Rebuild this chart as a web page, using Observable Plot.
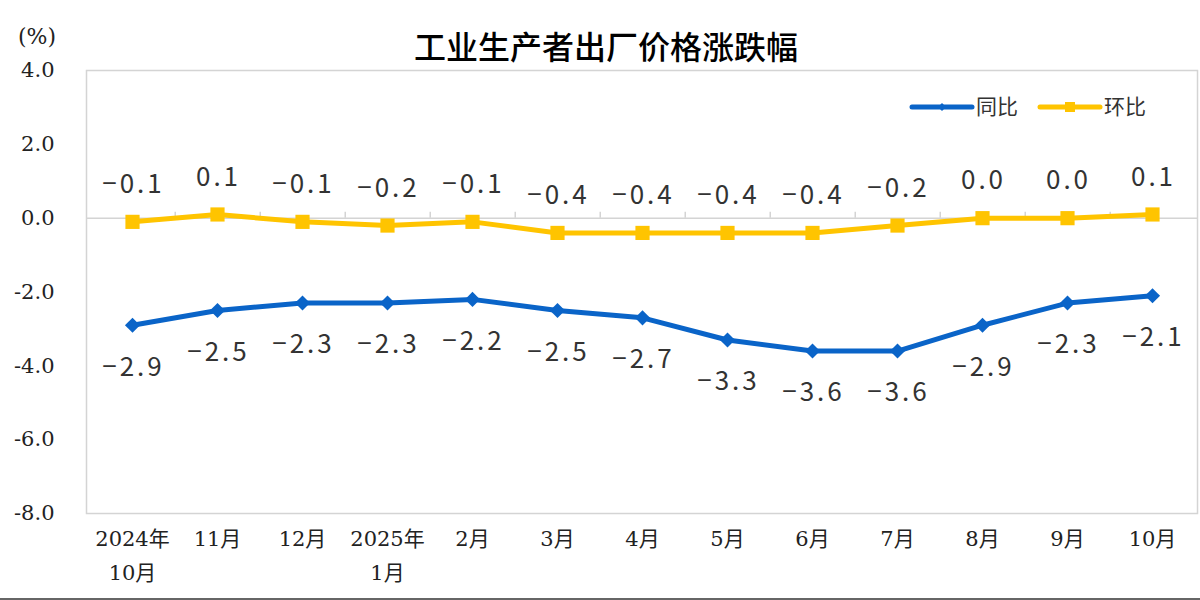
<!DOCTYPE html>
<html>
<head>
<meta charset="utf-8">
<script src="https://cdn.jsdelivr.net/npm/d3@7"></script>
<script src="https://cdn.jsdelivr.net/npm/@observablehq/plot@0.6"></script>
<style>
  body { margin: 0; background: #fff; overflow: hidden; }
  #wrap { position: relative; width: 1200px; height: 600px; }
  #title { position: absolute; top: 25px; left: 6px; width: 1200px; text-align: center;
           font-family: "Noto Sans CJK SC", sans-serif; font-size: 32px; font-weight: 500; line-height: 40px; color: #000; }
  #unit { position: absolute; left: 18px; top: 24px; font-family: "DejaVu Serif", serif; font-size: 22px; color: #222; }
  #legend { position: absolute; left: 900px; top: 89px; }
  #chart { position: absolute; left: 0; top: 0; }
  #bottomline { position: absolute; left: 0; top: 598px; width: 1200px; height: 2px; background: #666; }
</style>
</head>
<body>
<div id="wrap">
  <div id="chart"></div>
  <div id="title">工业生产者出厂价格涨跌幅</div>
  <div id="unit">(%)</div>
  <svg id="legend" width="270" height="36"></svg>
  <div id="bottomline"></div>
</div>
<script>
const months = ["2024年\n10月", "11月", "12月", "2025年\n1月", "2月", "3月", "4月", "5月", "6月", "7月", "8月", "9月", "10月"];
const yoy = [-2.9, -2.5, -2.3, -2.3, -2.2, -2.5, -2.7, -3.3, -3.6, -3.6, -2.9, -2.3, -2.1];
const mom = [-0.1, 0.1, -0.1, -0.2, -0.1, -0.4, -0.4, -0.4, -0.4, -0.2, 0.0, 0.0, 0.1];
const yTicks = [-8, -6, -4, -2, 0, 2, 4];
const seriesNames = ["同比", "环比"];

const blue = "#0a64c8";
const yellow = "#ffc400";
const gridColor = "#d4d4d4";

const W = 1200, H = 600, mL = 86, mR = 3, mT = 70, mB = 87;
const step = (W - mL - mR) / months.length;

const data = months.map((m, i) => ({ month: m, yoy: yoy[i], mom: mom[i] }));
const fmt = v => (v < 0 ? "−" : "") + Math.abs(v).toFixed(1);
const labelFont = { fontFamily: "Noto Sans CJK SC, sans-serif", fontSize: 26, fill: "#333" };

const chart = Plot.plot({
  width: W, height: H,
  marginLeft: mL, marginRight: mR, marginTop: mT, marginBottom: mB,
  x: { type: "point", domain: months, padding: 0.5 },
  y: { domain: [-8, 4] },
  marks: [
    Plot.frame({ stroke: gridColor, strokeWidth: 1.5 }),
    Plot.ruleY([0], { stroke: gridColor, strokeWidth: 1.5 }),
    Plot.ruleX(months.slice(0, -1), { x: d => d, y1: 0, y2: 0, insetTop: -6, dx: step / 2, stroke: gridColor, strokeWidth: 1.5 }),
    Plot.ruleY(yTicks, { y: d => d, x1: months[0], x2: months[0], dx: -step / 2, insetRight: -6, stroke: gridColor, strokeWidth: 1.5 }),
    Plot.axisY(yTicks, { tickSize: 0, tickPadding: 32, tickFormat: d => d.toFixed(1), label: null,
      fontSize: 21, fontFamily: "DejaVu Serif, serif", fill: "#222" }),
    Plot.axisX({ tickSize: 0, tickPadding: 8, label: null, fontSize: 21, lineHeight: 1.62,
      fontFamily: "DejaVu Serif, Noto Sans CJK SC, serif", fill: "#222" }),
    Plot.line(data, { x: "month", y: "mom", stroke: yellow, strokeWidth: 5 }),
    Plot.dot(data, { x: "month", y: "mom", symbol: "square", r: 8, fill: yellow }),
    Plot.line(data, { x: "month", y: "yoy", stroke: blue, strokeWidth: 5 }),
    Plot.dot(data, { x: "month", y: "yoy", symbol: "diamond2", r: 6.8, fill: blue }),
    Plot.text(data, { x: "month", y: "mom", text: d => fmt(d.mom), dy: -37, dx: 1, ...labelFont }),
    Plot.text(data, { x: "month", y: "yoy", text: d => fmt(d.yoy), dy: 42, dx: 1, ...labelFont })
  ]
});
d3.select(chart).selectAll("g[aria-label='text'] text").style("letter-spacing", "3px");
document.getElementById("chart").appendChild(chart);

// legend
const lg = d3.select("#legend");
const items = [
  { name: seriesNames[0], color: blue, x: 12, sym: "diamond" },
  { name: seriesNames[1], color: yellow, x: 140, sym: "square" }
];
items.forEach(it => {
  lg.append("line").attr("x1", it.x).attr("x2", it.x + 60).attr("y1", 18).attr("y2", 18)
    .attr("stroke", it.color).attr("stroke-width", 5).attr("stroke-linecap", "round");
  if (it.sym === "square") {
    lg.append("rect").attr("x", it.x + 25).attr("y", 13).attr("width", 10).attr("height", 10).attr("fill", it.color);
  } else {
    lg.append("path").attr("d", `M${it.x + 30},14L${it.x + 34},18L${it.x + 30},22L${it.x + 26},18Z`).attr("fill", it.color);
  }
  lg.append("text").attr("x", it.x + 64).attr("y", 18).attr("dy", "0.35em")
    .attr("font-family", "Noto Sans CJK SC, sans-serif").attr("font-size", 21).attr("fill", "#333").text(it.name);
});
</script>
</body>
</html>
